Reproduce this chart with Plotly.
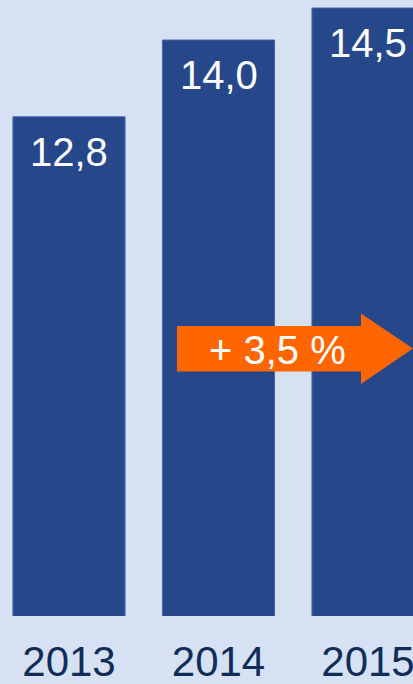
import plotly.graph_objects as go

years = ["2013", "2014", "2015"]
values = [12.8, 14.0, 14.5]
value_labels = ["12,8", "14,0", "14,5"]
growth_label = "+ 3,5 %"

W, H = 413, 684
PLOT_H = 616

BG = "#d6e1f3"
BAR = "#26478a"
ORANGE = "#ff6600"
YEAR_COLOR = "#0f2d56"
FONT = "Liberation Sans, Arial, sans-serif"

fig = go.Figure()
fig.add_trace(go.Bar(
    x=years, y=values,
    marker=dict(color=BAR, line=dict(color="#4a69a8", width=1)),
    width=0.75,
    hoverinfo="skip",
))

for i, (v, lab) in enumerate(zip(values, value_labels)):
    fig.add_annotation(x=i, y=v, text=lab, showarrow=False,
                       xanchor="center", yanchor="top", yshift=-11,
                       font=dict(family=FONT, size=40, color="white"))

def px(x):
    return x / W

def py(y):
    return 1 - y / PLOT_H

arrow_pts = [(177, 326), (361, 326), (361, 313.5), (413, 348.5),
             (361, 384), (361, 371.5), (177, 371.5)]
path = "M " + " L ".join(f"{px(a):.5f},{py(b):.5f}" for a, b in arrow_pts) + " Z"
fig.add_shape(type="path", path=path, xref="paper", yref="paper",
              fillcolor=ORANGE, line=dict(width=0), layer="above")
fig.add_annotation(x=px(277), y=py(350), xref="paper", yref="paper",
                   text=growth_label, showarrow=False,
                   xanchor="center", yanchor="middle",
                   font=dict(family=FONT, size=40, color="white"))

fig.update_layout(
    width=W, height=H,
    margin=dict(l=0, r=0, t=0, b=H - PLOT_H, autoexpand=False),
    paper_bgcolor=BG, plot_bgcolor=BG,
    showlegend=False,
    xaxis=dict(type="category", range=[-0.4615, 2.301], showgrid=False,
               zeroline=False, showline=False, ticks="outside", ticklen=9,
               tickcolor="rgba(0,0,0,0)", automargin=False,
               tickfont=dict(family=FONT, size=42, color=YEAR_COLOR),
               fixedrange=True),
    yaxis=dict(range=[5, 14.625], visible=False, fixedrange=True,
               automargin=False),
)

fig.write_html(
    "out.html",
    config={"displayModeBar": False},
    post_script="document.body.style.margin='0';document.body.style.overflow='hidden';document.body.style.background='" + BG + "';",
)
